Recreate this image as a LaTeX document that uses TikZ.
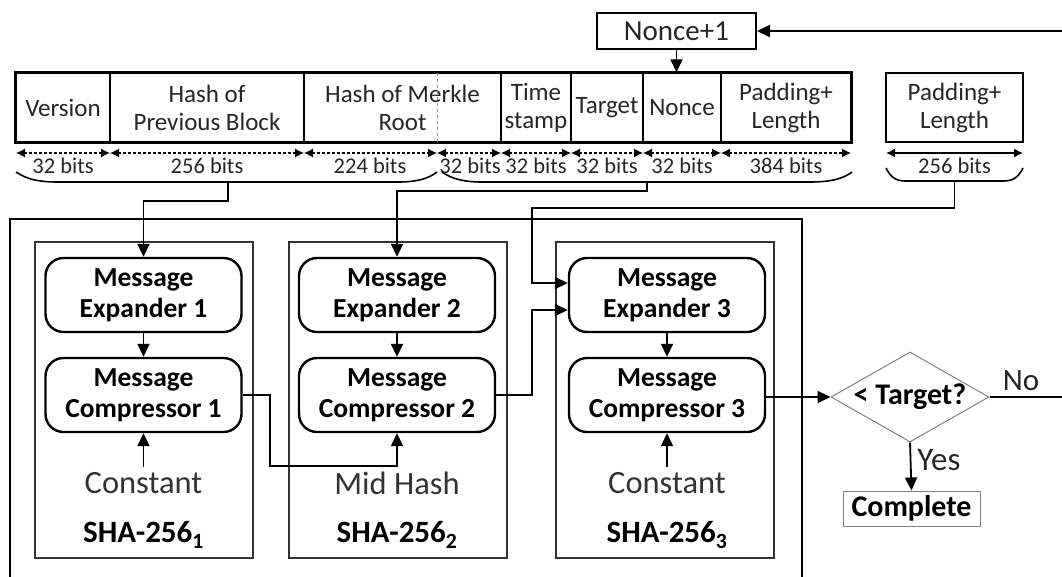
\documentclass[tikz,border=0pt]{standalone}
\usepackage{fontspec}
\setmainfont{Carlito}
\usetikzlibrary{arrows.meta,shapes.geometric,calc}
\begin{document}
\begin{tikzpicture}[x=1pt,y=-1pt,
  hdr/.style={draw, line width=1.5pt, inner sep=0pt, minimum height=69pt, align=center, font=\fontsize{25}{28}\selectfont, text=black!85},
  bitlbl/.style={font=\fontsize{22.5}{24}\selectfont, inner sep=0pt, text=black!85},
  dimarr/.style={dash pattern=on 3pt off 2pt, line width=1.2pt, {Latex[length=9pt,width=9pt]}-{Latex[length=9pt,width=9pt]}},
  brace/.style={line width=1.6pt},
  wire/.style={line width=1.8pt},
  arr/.style={wire, -{Triangle[length=13pt,width=12pt]}},
  rbox/.style={draw, line width=2.4pt, rounded corners=18pt, minimum width=196pt, minimum height=74pt, align=center, inner sep=0pt, font=\bfseries\fontsize{27.5}{31}\selectfont},
  shabox/.style={draw=black!80, line width=2pt, minimum width=218pt, minimum height=316pt, inner sep=0pt},
  lbl/.style={font=\fontsize{32.5}{34}\selectfont, text=black!80, inner sep=0pt},
  shalbl/.style={font=\bfseries\fontsize{31}{32}\selectfont, inner sep=0pt},
  flow/.style={draw=black!50, line width=1pt, inner sep=0pt, font=\bfseries\fontsize{30}{32}\selectfont},
]
\useasboundingbox (0,0) rectangle (1062,576);

% Nonce+1
\node[draw, line width=2pt, minimum width=159pt, minimum height=36pt, inner sep=0pt, font=\fontsize{29}{30}\selectfont, text=black!85] (n1) at (676.5,31) {Nonce+1};

% header segments
\node[hdr, minimum width=94pt] (ver) at (63,107.5) {Version};
\node[hdr, minimum width=194pt] (prev) at (207,107.5) {Hash of\\Previous Block};
\node[hdr, minimum width=197pt] (merk) at (402.5,107.5) {Hash of Merkle\\Root};
\node[hdr, minimum width=70pt] (time) at (536,107.5) {Time\\stamp};
\node[hdr, minimum width=72pt] (targ) at (607,107.5) {Target};
\node[hdr, minimum width=78pt] (nonce) at (682,107.5) {Nonce};
\node[hdr, minimum width=130pt] (pad) at (786,107.5) {Padding+\\Length};
\node[hdr, minimum width=137pt, line width=2.2pt] (pad2) at (954.5,107.5) {Padding+\\Length};
\draw[line width=2.2pt] (ver.north west) rectangle (pad.south east);
\draw[dashed, black!45, line width=1pt] (437,73) -- (437,142);

% bit-width arrows
\foreach \n/\x in {0/16,1/110,2/304,3/437,4/501,5/571,6/643,7/721,8/851}
  \coordinate (d\n) at (\x,153);
\foreach \a/\b in {0/1,1/2,2/3,3/4,4/5,5/6,6/7,7/8}
  \draw[dimarr] (d\a) -- (d\b);
\coordinate (e0) at (886,153);
\coordinate (e1) at (1023,153);
\draw[line width=1.5pt, {Latex[length=9pt,width=9pt]}-{Latex[length=9pt,width=9pt]}] (e0) -- (e1);

\node[bitlbl] (b1) at (63,166) {32 bits};
\node[bitlbl] (b2) at (207,166) {256 bits};
\node[bitlbl] (b3) at (370,166) {224 bits};
\node[bitlbl] (b4) at (470,166) {32 bits};
\node[bitlbl] (b5) at (536,166) {32 bits};
\node[bitlbl] (b6) at (607,166) {32 bits};
\node[bitlbl] (b7) at (682,166) {32 bits};
\node[bitlbl] (b8) at (786,166) {384 bits};
\node[bitlbl] (b9) at (954.5,166) {256 bits};

% braces
\draw[brace] (16,172) .. controls (28,180) and (40,182) .. (58,182) -- (398,182) .. controls (416,182) and (428,179) .. (437,172);
\draw[brace] (442,172) .. controls (452,179) and (464,182) .. (482,182) -- (810,182) .. controls (830,182) and (843,179) .. (852,172);
\draw[brace] (886,168) .. controls (890,176) and (895,181) .. (905,181) -- (1004,181) .. controls (1014,181) and (1019,176) .. (1023,168);
\coordinate (br1) at (228,182);
\coordinate (br2) at (647,182);
\coordinate (br3) at (954.5,181);

% outer frame
\draw[line width=2.5pt] (10,595) -- (10,219) -- (802,219) -- (802,595);

% SHA boxes
\node[shabox] (sha1) at (143.5,400) {};
\node[shabox] (sha2) at (398,400) {};
\node[shabox] (sha3) at (665,400) {};

% rounded blocks
\node[rbox] (exp1) at (143.5,295) {Message\\Expander 1};
\node[rbox] (comp1) at (143.5,395) {Message\\Compressor 1};
\node[rbox] (exp2) at (397,295) {Message\\Expander 2};
\node[rbox] (comp2) at (397,395) {Message\\Compressor 2};
\node[rbox] (exp3) at (667,295) {Message\\Expander 3};
\node[rbox] (comp3) at (667,395) {Message\\Compressor 3};

\node[lbl] (c1) at (143.5,483) {Constant};
\node[lbl] (mh) at (397,483) {Mid Hash};
\node[lbl] (c3) at (667,483) {Constant};
\node[shalbl] (s1) at (143.5,535) {SHA-256\textsubscript{1}};
\node[shalbl] (s2) at (397,535) {SHA-256\textsubscript{2}};
\node[shalbl] (s3) at (667,535) {SHA-256\textsubscript{3}};

% internal arrows
\draw[arr] (exp1) -- (comp1);
\draw[arr] (exp2) -- (comp2);
\draw[arr] (exp3) -- (comp3);
\draw[arr] ([yshift=5pt]c1.north) -- (comp1.south);
\draw[arr] ([yshift=5pt]c3.north) -- (comp3.south);
\draw[arr] (comp1.east) -- ++(27,0) |- ($(comp2.south)+(0,33)$) -- (comp2.south);

% inputs from header
\coordinate (ja) at (532,283);
\coordinate (jb) at (532,310);
\draw[arr] (br1) -- ++(0,19) -| (exp1.north);
\draw[arr] (br2) -- ++(0,9) -| (exp2.north);
\draw[arr] (br3) -- ++(0,27) -| (ja) -- (exp3.west |- ja);
\draw[arr] (comp2.east) -| (jb) -- (exp3.west |- jb);

% nonce update
\draw[arr] (n1.south) -- (n1.south |- nonce.north);

% decision
\node[diamond, flow, aspect=1.76, minimum width=158pt, minimum height=90pt] (tgt) at (910,397) {< Target?};
\node[flow, minimum width=137pt, minimum height=35pt] (cmp) at (911.5,508.5) {Complete};
\draw[arr] (comp3.east |- tgt.west) -- (tgt.west);
\draw[arr] (tgt.south) -- (cmp.north);
\node[font=\fontsize{33}{34}\selectfont, text=black!85, inner sep=0pt] (yes) at (939,460) {Yes};
\node[font=\fontsize{31}{32}\selectfont, text=black!85, inner sep=0pt] (no) at (1021,381) {No};
\coordinate (r1) at (1076,397);
\coordinate (r2) at (1076,31);
\draw[arr] (tgt.east) -- (r1) -- (r2) -- (n1.east);
\end{tikzpicture}
\end{document}
